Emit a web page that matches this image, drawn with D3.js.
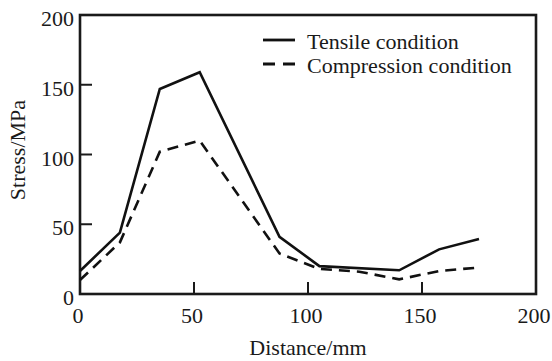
<!DOCTYPE html>
<html>
<head>
<meta charset="utf-8">
<script src="https://cdn.jsdelivr.net/npm/d3@7"></script>
<style>
    body { margin: 0; background: #fff; }
</style>
</head>
<body>
<div id="chart"></div>
<script>

// values
const tensileDistance = [0, 17.5, 35, 52.5, 87.5, 105, 140, 157.5, 175];
const tensileStress = [16.5, 44, 147, 159, 41, 20, 17, 32, 39.5];

const compressionDistance = [0, 17.5, 35, 52.5, 87.5, 105, 122.5, 140, 157.5, 175];
const compressionStress = [10, 37, 102, 110, 29, 18, 16, 10.5, 16.5, 19];

const xTicks = [0, 50, 100, 150, 200];
const yTicks = [0, 50, 100, 150, 200];
const innerTicks = [50, 100, 150];

const seriesNames = ["Tensile condition", "Compression condition"];

const width = 552;
const height = 361;

const margin = { top: 15, right: 16, bottom: 67, left: 80 };

const serif = "'Liberation Serif', 'DejaVu Serif', 'Times New Roman', Times, serif";

const svg = d3.select("#chart")
    .append("svg")
    .attr("width", width)
    .attr("height", height)
    .attr("font-family", serif);

const x = d3.scaleLinear()
    .domain([0, 200])
    .range([margin.left, width - margin.right]);

const y = d3.scaleLinear()
    .domain([0, 200])
    .range([height - margin.bottom, margin.top]);

// frame
svg.append("rect")
    .attr("x", x(0))
    .attr("y", y(200))
    .attr("width", x(200) - x(0))
    .attr("height", y(0) - y(200))
    .attr("fill", "none")
    .attr("stroke", "#1a1a1a")
    .attr("stroke-width", 2.6);

// inward ticks
svg.selectAll(".xtick")
    .data(innerTicks)
    .enter()
    .append("line")
    .attr("x1", function(d) { return x(d); })
    .attr("x2", function(d) { return x(d); })
    .attr("y1", y(0))
    .attr("y2", y(0) - 12)
    .attr("stroke", "#1a1a1a")
    .attr("stroke-width", 2);

svg.selectAll(".ytick")
    .data(innerTicks)
    .enter()
    .append("line")
    .attr("x1", x(0))
    .attr("x2", x(0) + 12)
    .attr("y1", function(d) { return y(d); })
    .attr("y2", function(d) { return y(d); })
    .attr("stroke", "#1a1a1a")
    .attr("stroke-width", 2);

function label(sel) {
    return sel
        .attr("font-family", serif)
        .attr("font-size", 22)
        .attr("fill", "#1a1a1a");
}

// tick labels
svg.selectAll(".xlabel")
    .data(xTicks)
    .enter()
    .append("text")
    .call(label)
    .attr("x", function(d) { return x(d) - 2; })
    .attr("y", y(0) + 29)
    .attr("text-anchor", "middle")
    .text(function(d) { return d; });

svg.selectAll(".ylabel")
    .data(yTicks)
    .enter()
    .append("text")
    .call(label)
    .attr("x", x(0) - 6)
    .attr("y", function(d) { return y(d) + 11; })
    .attr("text-anchor", "end")
    .text(function(d) { return d; });

// axis titles
svg.append("text")
    .call(label)
    .attr("x", 308)
    .attr("y", 355)
    .attr("text-anchor", "middle")
    .text("Distance/mm");

svg.append("text")
    .call(label)
    .attr("transform", "translate(25,150) rotate(-90)")
    .attr("text-anchor", "middle")
    .text("Stress/MPa");

// lines
const line = d3.line()
    .x(function(d) { return x(d[0]); })
    .y(function(d) { return y(d[1]); });

const tensile = d3.zip(tensileDistance, tensileStress);
const compression = d3.zip(compressionDistance, compressionStress);

svg.append("path")
    .datum(tensile)
    .attr("d", line)
    .attr("fill", "none")
    .attr("stroke", "#111")
    .attr("stroke-width", 2.6);

svg.append("path")
    .datum(compression)
    .attr("d", line)
    .attr("fill", "none")
    .attr("stroke", "#111")
    .attr("stroke-width", 2.6)
    .attr("stroke-dasharray", "11,7");

// legend
const legend = svg.append("g");

seriesNames.forEach(function(name, i) {

    const ly = 40 + i * 24;

    legend.append("line")
        .attr("x1", 263)
        .attr("x2", 295)
        .attr("y1", ly)
        .attr("y2", ly)
        .attr("stroke", "#111")
        .attr("stroke-width", 2.8)
        .attr("stroke-dasharray", i === 0 ? null : "12,8");

    legend.append("text")
        .call(label)
        .attr("x", 307)
        .attr("y", ly + 8.5)
        .text(name);
});

</script>
</body>
</html>
